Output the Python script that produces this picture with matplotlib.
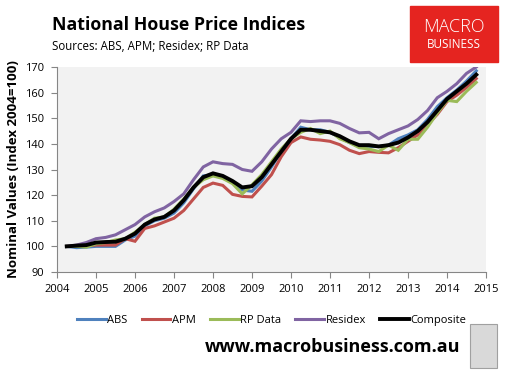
import numpy as np
import matplotlib.pyplot as plt
from matplotlib.patches import Rectangle

# Trimestres desde 2004 T2 hasta 2014 T4
trimestres = np.arange(2004.25, 2014.76, 0.25)

abs_idx = [100, 99.5, 99.7,
           100, 100, 100, 102.5,
           104, 108, 110, 111,
           113, 117, 122.5, 127.5,
           128, 127, 125, 122,
           121.5, 125.5, 131, 137,
           142, 146.5, 145.5, 145.5,
           144.5, 142.5, 140.5, 139,
           139, 139, 139.5, 142,
           143.5, 145.5, 149.5, 154.5,
           158, 161, 164.5, 168.5]

apm_idx = [100, 100, 100.2,
           100.5, 100.5, 100.5, 103,
           102, 107, 108, 109.5,
           111, 114, 118.5, 123,
           124.7, 123.8, 120.3, 119.5,
           119.3, 123.5, 128, 135,
           140.5, 142.7, 141.8, 141.5,
           141, 139.7, 137.5, 136.2,
           137, 136.7, 136.5, 138.5,
           141, 143.5, 147.5, 151.5,
           156.5, 159, 162, 165.5]

rp_idx = [100, 100, 99.7,
          101, 101.5, 102.5, 103,
          105.5, 108.5, 111, 111.5,
          114.5, 118.5, 123, 126,
          127.5, 126.5, 124.5, 120.5,
          124, 128, 133, 138,
          142, 144.5, 146, 144,
          145, 142, 140.5, 138.5,
          138, 137, 139.5, 137.5,
          141.8, 141.8, 146.5, 152,
          157, 156.5, 160.5, 164]

residex_idx = [100, 100.5, 101.5,
               103, 103.5, 104.5, 106.5,
               108.5, 111.5, 113.5, 115,
               117.5, 120.5, 126, 131,
               133, 132.3, 132, 130,
               129.3, 133, 138, 142,
               144.5, 149, 148.7, 149,
               149, 148, 146, 144.3,
               144.5, 142, 144, 145.5,
               147, 149.5, 153, 158,
               160.5, 163.5, 167.5, 170]

composite_idx = [100, 100.3, 100.5,
                 101.5, 101.7, 101.8, 103,
                 105, 108.5, 110.5, 111.5,
                 114, 118, 123, 127,
                 128.5, 127.5, 125.5, 123,
                 123.5, 127, 132, 137,
                 142, 145.5, 145.5, 145,
                 144.5, 143, 141, 139.5,
                 139.5, 139, 139.5, 140.5,
                 142.5, 145, 148.5, 153,
                 157.5, 160.5, 163.5, 167]

series = [
    ('ABS', abs_idx, '#4F81BD', 2.2),
    ('APM', apm_idx, '#C0504D', 2.2),
    ('RP Data', rp_idx, '#9BBB59', 2.2),
    ('Residex', residex_idx, '#8064A2', 2.2),
    ('Composite', composite_idx, '#000000', 2.8),
]

plt.rcParams['font.family'] = ['Open Sans', 'DejaVu Sans']

fig = plt.figure(figsize=(5.13, 3.71), dpi=100)
ax = fig.add_axes([57/513, 1 - 272/371, 429/513, 205/371])
ax.set_facecolor('#F2F2F2')

for nombre, valores, color, lw in series:
    ax.plot(trimestres, valores, color=color, lw=lw, label=nombre,
            solid_joinstyle='miter')

ax.set_xlim(2004, 2015)
ax.set_ylim(90, 170)
ax.set_xticks(range(2004, 2016))
ax.set_yticks(range(90, 171, 10))
ax.tick_params(labelsize=8, length=4, color='#868686', pad=5)
for lado in ['top', 'right']:
    ax.spines[lado].set_visible(False)
for lado in ['left', 'bottom']:
    ax.spines[lado].set_color('#868686')

ax.set_ylabel('Nominal Values (Index 2004=100)', fontsize=9.5,
              fontweight='bold', labelpad=4)

leg = ax.legend(loc='upper center', bbox_to_anchor=(0.5, -0.16), ncol=5,
                frameon=False, fontsize=8, handlelength=2.6, handletextpad=0.1,
                columnspacing=1.3)

fig.text(52/513, 1 - 30/371, 'National House Price Indices', fontsize=12.8,
         fontweight='bold', va='baseline')
fig.text(52/513, 1 - 50/371, 'Sources: ABS, APM; Residex; RP Data',
         fontsize=8.3, va='baseline')
fig.text(460/513, 1 - 347/371, 'www.macrobusiness.com.au', fontsize=13,
         fontweight='bold', ha='right', va='center')

# Logo de MacroBusiness
fig.patches.append(Rectangle((410/513, 1 - 62/371), 88/513, 56/371,
                             transform=fig.transFigure, color='#E52420'))
fig.text(454/513, 1 - 27/371, 'MACRO', color='white', fontsize=13,
         fontweight='light', ha='center', va='center')
fig.text(454/513, 1 - 45/371, 'BUSINESS', color='white', fontsize=8.5,
         ha='center', va='center')
fig.patches.append(Rectangle((470/513, 1 - 368/371), 27/513, 44/371,
                             transform=fig.transFigure, facecolor='#D9D9D9',
                             edgecolor='#A0A0A0', lw=0.8))

fig.savefig('out.png', dpi=100)
